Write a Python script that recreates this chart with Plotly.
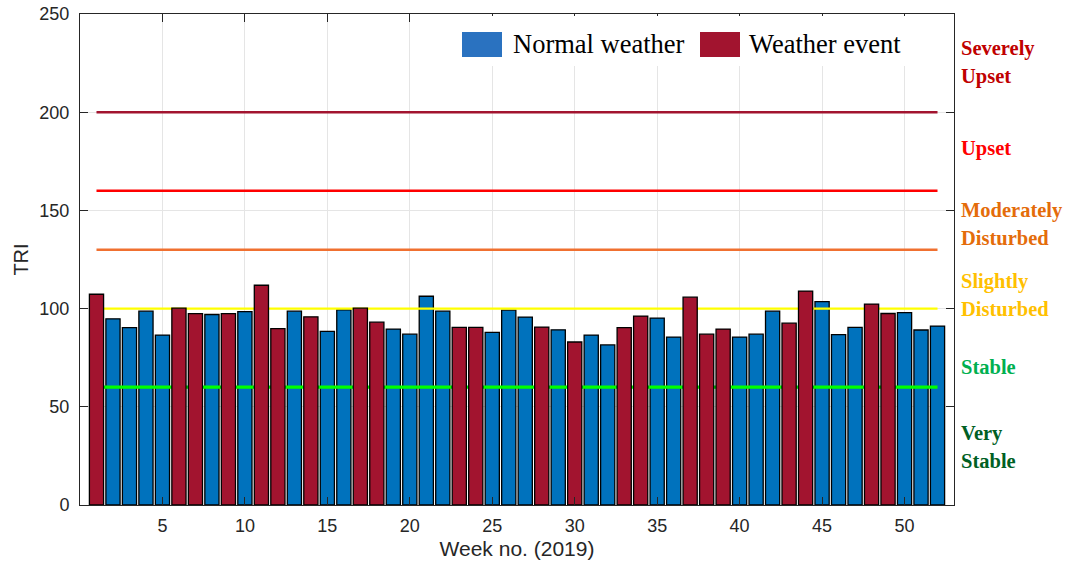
import plotly.graph_objects as go

weeks = list(range(1, 53))
tri = [107.3, 94.8, 90.3, 98.7, 86.5, 100.2, 97.4, 97.0, 97.4, 98.5,
       111.9, 89.8, 98.7, 95.8, 88.4, 99.4, 100.2, 93.1, 89.6, 87.0,
       106.3, 98.7, 90.4, 90.4, 87.9, 99.2, 95.7, 90.6, 89.2, 83.0,
       86.5, 81.5, 90.3, 96.2, 95.2, 85.5, 105.8, 87.0, 89.6, 85.5,
       87.0, 98.7, 92.6, 108.9, 103.6, 86.7, 90.4, 102.3, 97.5, 98.0,
       89.1, 91.1]
event_weeks = [1, 6, 7, 9, 11, 12, 14, 17, 18, 23, 24, 28, 30, 33, 34, 37, 38, 39, 43, 44, 48, 49]

thresholds = [200, 160, 130, 100, 60]
threshold_colors = ["#A2142F", "#FF0000", "#F07030", "#FFFF00", "#00FF00"]
threshold_widths = [2.5, 2.5, 2.5, 2.2, 3.2]

zone_labels = [("Severely", "Upset"), ("Upset",), ("Moderately", "Disturbed"),
               ("Slightly", "Disturbed"), ("Stable",), ("Very", "Stable")]
zone_colors = ["#C00000", "#FF0000", "#E46C0A", "#FFC000", "#00B050", "#005F24"]
zone_centers = [225.3, 181.3, 143, 106.9, 70.3, 29.5]

legend_names = ["Normal weather", "Weather event"]
blue = "#0072BD"
red = "#A2142F"

normal_x = [w for w in weeks if w not in event_weeks]
normal_y = [tri[w - 1] for w in normal_x]
event_x = [w for w in weeks if w in event_weeks]
event_y = [tri[w - 1] for w in event_x]

fig = go.Figure()
fig.add_trace(go.Bar(x=normal_x, y=normal_y, width=0.86, marker=dict(color=blue, line=dict(color="black", width=1.3)),
                     showlegend=False, xaxis="x", yaxis="y"))
for t, c, lw in zip(thresholds, threshold_colors, threshold_widths):
    fig.add_trace(go.Scatter(x=[1, 52], y=[t, t], mode="lines", line=dict(color=c, width=lw),
                             showlegend=False, hoverinfo="skip", xaxis="x", yaxis="y"))
fig.add_trace(go.Bar(x=event_x, y=event_y, width=0.86, marker=dict(color=red, line=dict(color="black", width=1.3)),
                     showlegend=False, xaxis="x2", yaxis="y2"))

# plot area in page pixels (body margin removed by post_script)
L, R, T, B = 80, 954, 14, 505
W, H = 1070, 567
pw, ph = R - L, B - T


def px(x):
    return (x - L) / pw


def py(y):
    return (B - y) / ph


shapes = []
annotations = []
# legend box
shapes.append(dict(type="rect", xref="paper", yref="paper", x0=px(452), x1=px(952), y0=py(66), y1=py(16),
                   fillcolor="white", line=dict(width=0), layer="above"))
sw = [(462, 502), (700, 740)]
tx = [511, 747]
for (a, b), c, name, t in zip(sw, ["#2A72C0", red], legend_names, tx):
    shapes.append(dict(type="rect", xref="paper", yref="paper", x0=px(a), x1=px(b), y0=py(57), y1=py(32),
                       fillcolor=c, line=dict(width=0), layer="above"))
    annotations.append(dict(text=name, xref="paper", yref="paper", x=px(t), y=py(44), xanchor="left",
                            yanchor="middle", showarrow=False,
                            font=dict(family="Liberation Serif", size=26.5, color="black")))

for lines, c, yc in zip(zone_labels, zone_colors, zone_centers):
    n = len(lines)
    for i, s in enumerate(lines):
        off = (i - (n - 1) / 2) * 28
        annotations.append(dict(text="<b>%s</b>" % s, xref="paper", yref="y", x=px(959), y=yc, yshift=-off,
                                xanchor="left", yanchor="middle", showarrow=False,
                                font=dict(family="Liberation Serif", size=20.5, color=c)))

axis_col = "#262626"
fig.update_layout(
    width=W, height=H,
    margin=dict(l=L, r=W - R, t=T, b=H - B, autoexpand=False, pad=0),
    plot_bgcolor="white", paper_bgcolor="white",
    barmode="overlay",
    shapes=shapes, annotations=annotations,
    font=dict(family="Liberation Sans", color=axis_col),
    xaxis=dict(range=[0, 53], tickmode="array", tickvals=list(range(5, 51, 5)), ticks="inside", ticklen=8,
               tickcolor=axis_col, showgrid=True, gridcolor="#E5E5E5", showline=True, linecolor=axis_col,
               linewidth=1, mirror="ticks", zeroline=False, tickfont=dict(size=18), ticklabelstandoff=4,
               ticklabeloverflow="allow",
               title=dict(text="Week no. (2019)", font=dict(size=21), standoff=6)),
    yaxis=dict(range=[0, 250], tickmode="array", tickvals=list(range(0, 251, 50)), ticks="inside", ticklen=8,
               tickcolor=axis_col, showgrid=True, gridcolor="#E5E5E5", showline=True, linecolor=axis_col,
               linewidth=1, mirror="ticks", zeroline=False, tickfont=dict(size=18), ticklabelstandoff=6,
               ticklabeloverflow="allow",
               title=dict(text="TRI", font=dict(size=20), standoff=5)),
    xaxis2=dict(range=[0, 53], overlaying="x", visible=False, matches="x"),
    yaxis2=dict(range=[0, 250], overlaying="y", visible=False, matches="y"),
)

fig.write_html("out.html", config={"displayModeBar": False},
               post_script="document.body.style.margin='0';document.body.style.overflow='hidden';")
